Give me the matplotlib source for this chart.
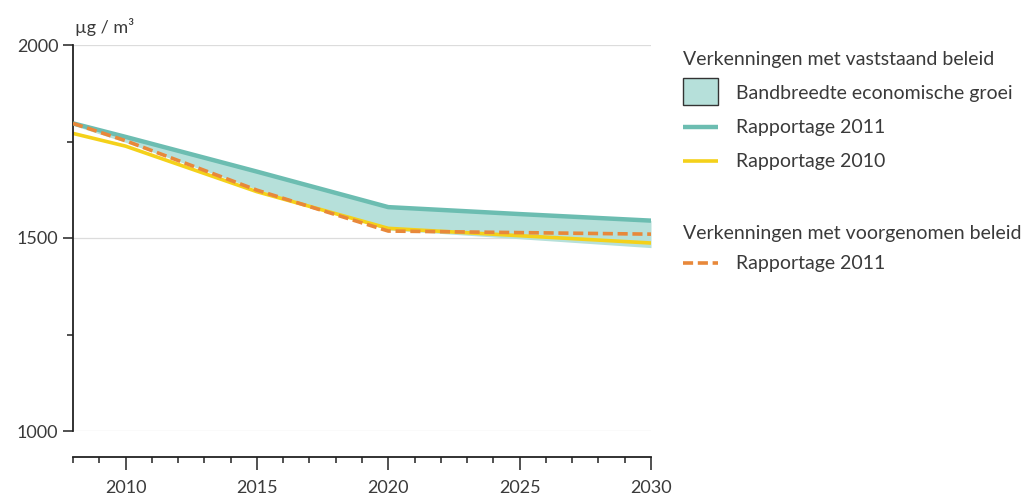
import numpy as np
import matplotlib.pyplot as plt
import matplotlib.patches as mpatches
from matplotlib.lines import Line2D

plt.rcParams['font.family'] = ['Lato', 'DejaVu Sans']

# data
years = [2008, 2010, 2015, 2020, 2025, 2030]
band_upper = [1797, 1762, 1672, 1580, 1562, 1545]   # Rapportage 2011, vaststaand beleid
band_lower = [1792, 1748, 1626, 1521, 1498, 1475]
rap_2010 = [1771, 1738, 1620, 1525, 1506, 1487]
rap_2011_voorgenomen = [1797, 1752, 1624, 1518, 1514, 1510]

col_teal = '#6cbdb1'
col_fill = '#b6e0da'
col_yellow = '#f4d11a'
col_orange = '#e8883a'
col_text = '#3a3a3a'

fig = plt.figure(figsize=(10.3, 5), dpi=100)
ax = fig.add_axes([73 / 1030, 1 - 431 / 500, (651 - 73) / 1030, (431 - 45) / 500])

ax.fill_between(years, band_lower, band_upper, color=col_fill, lw=0, zorder=1)
ax.plot(years, band_upper, color=col_teal, lw=3.2, zorder=3, solid_capstyle='butt')
ax.plot(years, rap_2010, color=col_yellow, lw=2.6, zorder=2, solid_capstyle='butt')
ax.plot(years, rap_2011_voorgenomen, color=col_orange, lw=2.6, zorder=4,
        dashes=(2.8, 1.3))

for yv in [1000, 1500, 2000]:
    ax.axhline(yv, color='#dcdcdc', lw=0.9, zorder=0)

ax.set_xlim(2008, 2030)
ax.set_ylim(1000, 2000)

for s in ['top', 'right']:
    ax.spines[s].set_visible(False)
ax.spines['left'].set_color('#222222')
ax.spines['left'].set_linewidth(1.3)
ax.spines['bottom'].set_color('#222222')
ax.spines['bottom'].set_linewidth(1.3)
ax.spines['bottom'].set_position(('outward', 19))

ax.set_yticks([1000, 1500, 2000])
ax.set_yticks([1250, 1750], minor=True)
ax.set_xticks([2010, 2015, 2020, 2025, 2030])
ax.set_xticks(np.arange(2008, 2031), minor=True)

ax.tick_params(axis='y', which='major', length=7.5, width=1.1, color='#222222',
               labelsize=13, labelcolor=col_text, pad=3)
ax.tick_params(axis='y', which='minor', length=4, width=1.1, color='#222222')
ax.tick_params(axis='x', which='major', length=9.5, width=1.1, color='#222222',
               labelsize=13, labelcolor=col_text, pad=7)
ax.tick_params(axis='x', which='minor', length=4.5, width=1.1, color='#222222')

fig.text(75 / 1030, 1 - 27 / 500, 'µg / m³', fontsize=13, color=col_text,
         ha='left', va='center')

# legend, drawn by hand to keep the two groups
def fy(py):
    return 1 - py / 500

def fx(px):
    return px / 1030

fs = 14
lx0, lx1, tx = 683, 718, 736
fig.text(fx(lx0), fy(60), 'Verkenningen met vaststaand beleid', fontsize=fs,
         color=col_text, va='center')
fig.patches.append(mpatches.Rectangle((fx(lx0), fy(105)), fx(lx1) - fx(lx0), fy(78) - fy(105),
                                      transform=fig.transFigure, facecolor=col_fill,
                                      edgecolor='#333333', lw=1.0))
fig.text(fx(tx), fy(93), 'Bandbreedte economische groei', fontsize=fs,
         color=col_text, va='center')
fig.lines.append(Line2D([fx(lx0), fx(lx1)], [fy(127), fy(127)], transform=fig.transFigure,
                        color=col_teal, lw=3.2, solid_capstyle='butt'))
fig.text(fx(tx), fy(127), 'Rapportage 2011', fontsize=fs, color=col_text, va='center')
fig.lines.append(Line2D([fx(lx0), fx(lx1)], [fy(161), fy(161)], transform=fig.transFigure,
                        color=col_yellow, lw=2.6, solid_capstyle='butt'))
fig.text(fx(tx), fy(161), 'Rapportage 2010', fontsize=fs, color=col_text, va='center')

fig.text(fx(lx0), fy(233), 'Verkenningen met voorgenomen beleid', fontsize=fs,
         color=col_text, va='center')
fig.lines.append(Line2D([fx(lx0), fx(lx1)], [fy(263), fy(263)], transform=fig.transFigure,
                        color=col_orange, lw=2.6, dashes=(2.8, 1.3)))
fig.text(fx(tx), fy(263), 'Rapportage 2011', fontsize=fs, color=col_text, va='center')

fig.savefig('out.png', dpi=100)
